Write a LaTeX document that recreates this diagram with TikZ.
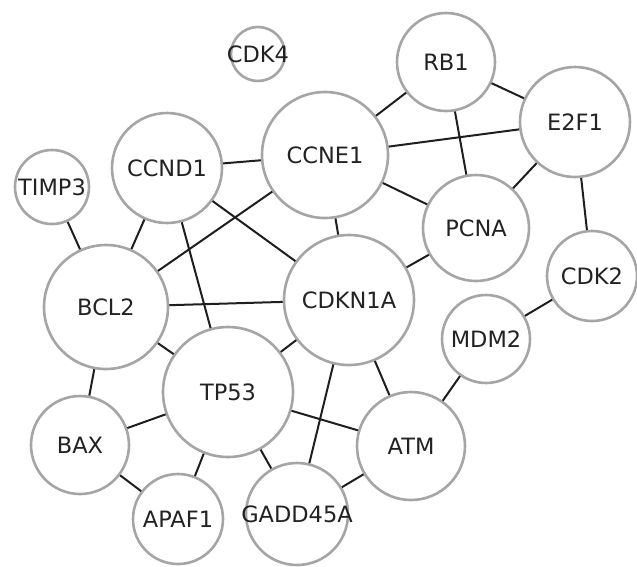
\documentclass[tikz,border=0pt]{standalone}
\usepackage{fontspec}
\setmainfont{DejaVu Sans}
\definecolor{ringgray}{HTML}{A5A5A5}
\definecolor{edgeblack}{HTML}{1E1E1E}
\definecolor{labelgray}{HTML}{222222}
\begin{document}
\begin{tikzpicture}[x=1pt,y=-1pt,
		gene/.style={circle,draw=ringgray,line width=2.6pt,fill=white,inner sep=0pt,
			label={[text=labelgray,font=\fontsize{22.5}{26}\selectfont]center:#1}},
		link/.style={draw=edgeblack,line width=2pt}]
		\useasboundingbox (0,0) rectangle (637,566);

		% Genes
		\node[gene=CDK4,minimum size=54pt] (cdk4) at (258,54) {};
		\node[gene=RB1,minimum size=98pt] (rb1) at (446,62) {};
		\node[gene=E2F1,minimum size=110pt] (e2f1) at (575,122) {};
		\node[gene=TIMP3,minimum size=74pt] (timp3) at (52,187) {};
		\node[gene=CCND1,minimum size=110pt] (ccnd1) at (167,168) {};
		\node[gene=CCNE1,minimum size=126pt] (ccne1) at (325,155) {};
		\node[gene=PCNA,minimum size=106pt] (pcna) at (476,228) {};
		\node[gene=CDK2,minimum size=90pt] (cdk2) at (592,276) {};
		\node[gene=BCL2,minimum size=124pt] (bcl2) at (106,307) {};
		\node[gene=CDKN1A,minimum size=130pt] (cdkn1a) at (349,300) {};
		\node[gene=MDM2,minimum size=88pt] (mdm2) at (486,339) {};
		\node[gene=TP53,minimum size=130pt] (tp53) at (228,392) {};
		\node[gene=BAX,minimum size=98pt] (bax) at (80,445) {};
		\node[gene=ATM,minimum size=108pt] (atm) at (411,446) {};
		\node[gene=APAF1,minimum size=90pt] (apaf1) at (178,519) {};
		\node[gene=GADD45A,minimum size=102pt] (gadd45a) at (297,514) {};

		% Interactions
		\foreach \a/\b in {ccnd1/ccne1, ccnd1/bcl2, ccnd1/tp53, ccnd1/cdkn1a,
			ccne1/bcl2, timp3/bcl2, ccne1/rb1, ccne1/e2f1, ccne1/pcna, ccne1/cdkn1a,
			rb1/e2f1, rb1/pcna, e2f1/pcna, e2f1/cdk2, pcna/cdkn1a, cdk2/mdm2,
			mdm2/atm, bcl2/cdkn1a, bcl2/tp53, bcl2/bax, tp53/cdkn1a, tp53/bax,
			tp53/apaf1, tp53/gadd45a, tp53/atm, cdkn1a/gadd45a, cdkn1a/atm,
			atm/gadd45a, bax/apaf1}
			\draw[link] (\a) -- (\b);
	\end{tikzpicture}
\end{document}
